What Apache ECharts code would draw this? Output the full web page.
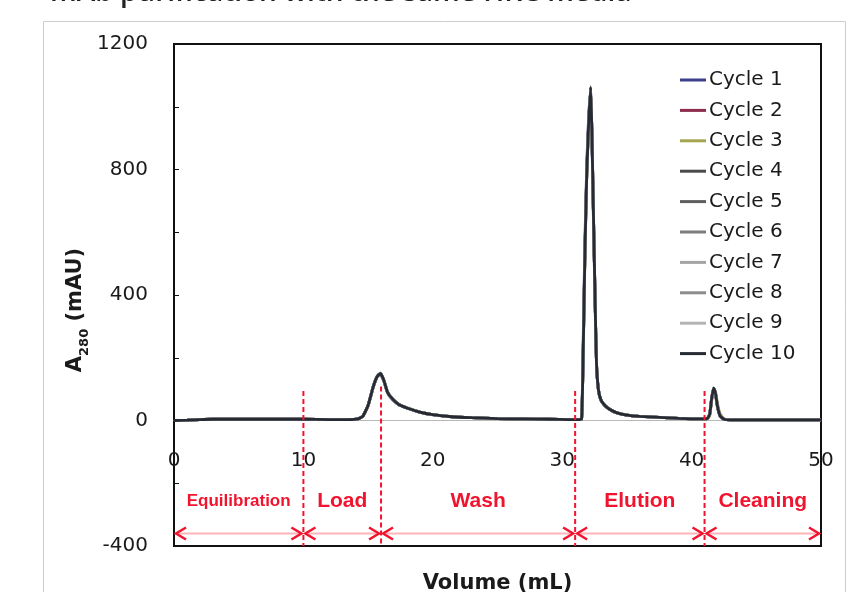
<!DOCTYPE html>
<html>
<head>
<meta charset="utf-8">
<script src="https://cdn.jsdelivr.net/npm/echarts@6/dist/echarts.min.js"></script>
<style>
  html, body { margin: 0; padding: 0; background: #fff; }
  #chart { width: 859px; height: 592px; }
</style>
</head>
<body>
<div id="chart"></div>
<script>
// volume (mL) sample points shared by every cycle
var volume = [0, 1, 2, 3, 5, 8, 10, 12, 13.5, 14.2, 14.6, 15.0, 15.4, 15.7, 15.95, 16.2, 16.5, 16.9, 17.4, 18, 19, 20, 21.5, 23, 25, 27, 29, 30.5, 31.3, 31.5, 31.6, 31.75, 31.9, 32.05, 32.2, 32.3, 32.4, 32.55, 32.65, 32.8, 33.0, 33.3, 33.7, 34.2, 35, 36, 37.5, 39, 40.5, 41.2, 41.4, 41.55, 41.7, 41.85, 42.0, 42.2, 42.5, 43, 45, 47.5, 50]

// A280 (mAU) for each cycle
var cycle1 = [0, 1, 3, 4, 4, 4, 4, 3, 3, 5, 15, 50, 110, 140, 146, 127, 88, 66, 49, 39, 26, 18, 12, 9, 6, 5, 4, 3, 3, 6, 200, 560, 820, 975, 1050, 890, 670, 355, 175, 95, 63, 47, 34, 24, 17, 13, 10, 7, 5, 6, 22, 72, 98, 80, 42, 14, 4, 2, 2, 2, 2]
var cycle2 = [0, 1, 3, 4, 4, 4, 4, 3, 3, 5, 14, 47, 106, 139, 149, 131, 91, 69, 51, 40, 27, 19, 12, 9, 6, 5, 4, 3, 3, 5, 170, 530, 800, 955, 1058, 905, 685, 365, 180, 97, 64, 48, 35, 25, 17, 13, 10, 7, 5, 6, 19, 68, 101, 86, 47, 16, 4, 2, 2, 2, 2]
var cycle3 = [0, 1, 3, 4, 4, 4, 4, 3, 3, 5, 13, 46, 105, 138, 148, 131, 92, 69, 51, 41, 27, 19, 12, 9, 6, 5, 4, 3, 3, 5, 150, 505, 780, 945, 1055, 915, 700, 378, 188, 100, 66, 49, 36, 25, 18, 13, 10, 7, 5, 5, 15, 60, 100, 92, 55, 22, 6, 2, 2, 2, 2]
var cycle4 = [0, 1, 3, 4, 4, 4, 4, 3, 3, 5, 14, 48, 107, 140, 151, 131, 90, 68, 50, 40, 27, 19, 12, 9, 6, 5, 4, 3, 3, 5, 158, 515, 785, 948, 1060, 912, 692, 372, 184, 98, 65, 48, 35, 25, 17, 13, 10, 7, 5, 6, 20, 69, 104, 86, 46, 15, 4, 2, 2, 2, 2]
var cycle5 = [0, 1, 3, 4, 4, 4, 4, 3, 3, 5, 14, 49, 109, 141, 150, 129, 89, 67, 50, 40, 27, 19, 12, 9, 6, 5, 4, 3, 3, 5, 162, 522, 792, 952, 1064, 908, 688, 368, 182, 98, 65, 48, 35, 25, 17, 13, 10, 7, 5, 6, 21, 71, 102, 84, 44, 15, 4, 2, 2, 2, 2]
var cycle6 = [0, 1, 3, 4, 4, 4, 4, 3, 3, 5, 14, 48, 108, 139, 149, 130, 90, 68, 50, 40, 27, 19, 12, 9, 6, 5, 4, 3, 3, 5, 165, 525, 795, 955, 1060, 906, 686, 366, 181, 97, 64, 48, 35, 25, 17, 13, 10, 7, 5, 6, 20, 70, 103, 85, 45, 15, 4, 2, 2, 2, 2]
var cycle7 = [0, 1, 3, 4, 4, 4, 4, 3, 3, 5, 14, 47, 107, 140, 150, 130, 90, 68, 50, 40, 27, 19, 12, 9, 6, 5, 4, 3, 3, 5, 160, 518, 788, 950, 1061, 911, 691, 371, 183, 98, 65, 48, 35, 25, 17, 13, 10, 7, 5, 6, 20, 70, 102, 85, 45, 15, 4, 2, 2, 2, 2]
var cycle8 = [0, 1, 3, 4, 4, 4, 4, 3, 3, 5, 14, 48, 108, 141, 151, 130, 90, 68, 50, 40, 27, 19, 12, 9, 6, 5, 4, 3, 3, 5, 163, 523, 793, 953, 1063, 909, 689, 369, 182, 98, 65, 48, 35, 25, 17, 13, 10, 7, 5, 6, 20, 71, 103, 84, 45, 15, 4, 2, 2, 2, 2]
var cycle9 = [0, 1, 3, 4, 4, 4, 4, 3, 3, 5, 14, 47, 107, 139, 150, 131, 91, 68, 50, 40, 27, 19, 12, 9, 6, 5, 4, 3, 3, 5, 158, 518, 788, 948, 1061, 911, 691, 371, 184, 98, 65, 48, 35, 25, 17, 13, 10, 7, 5, 6, 20, 70, 102, 85, 46, 15, 4, 2, 2, 2, 2]
var cycle10 = [0, 1, 3, 4, 4, 4, 4, 3, 3, 5, 14, 48, 108, 140, 150, 130, 90, 68, 50, 40, 27, 19, 12, 9, 6, 5, 4, 3, 3, 5, 160, 520, 790, 950, 1062, 910, 690, 370, 183, 98, 65, 48, 35, 25, 17, 13, 10, 7, 5, 6, 20, 70, 103, 85, 45, 15, 4, 2, 2, 2, 2]

var cycleNames = ['Cycle 1', 'Cycle 2', 'Cycle 3', 'Cycle 4', 'Cycle 5', 'Cycle 6', 'Cycle 7', 'Cycle 8', 'Cycle 9', 'Cycle 10']

// phases of the run, boundaries in mL
var phaseNames = ['Equilibration', 'Load', 'Wash', 'Elution', 'Cleaning']
var phaseBounds = [0, 10, 16, 31, 41, 50]
var dividerVolumes = [10, 16, 31, 41]
var dividerTops = [94, 108, 94, 94]

var cycleColors = ['#3d3f8e', '#8e2c4c', '#a3a64e', '#4a4a4a', '#5e5e5e', '#7c7c7c', '#a4a4a4', '#8c8c8c', '#b4b4b4', '#262a33']
var red = '#f0142e'
var labelY = -256
var arrowY = -360

var chart = echarts.init(document.getElementById('chart'))

var series = []
var allCycles = [cycle1, cycle2, cycle3, cycle4, cycle5, cycle6, cycle7, cycle8, cycle9, cycle10]
allCycles.forEach(function (vals, i) {
  series.push({
    name: cycleNames[i],
    type: 'line',
    data: volume.map(function (v, j) { return [v, vals[j]] }),
    symbol: 'none',
    smooth: 0.15,
    lineStyle: { width: 2.8, color: cycleColors[i] },
    itemStyle: { color: cycleColors[i] },
    z: 2
  })
})

// dashed red separators
series.push({
  type: 'custom',
  silent: true,
  z: 5,
  data: dividerVolumes.map(function (v, i) { return [v, dividerTops[i]] }),
  renderItem: function (params, api) {
    var top = api.coord([api.value(0), api.value(1)])
    var bot = api.coord([api.value(0), -400])
    return {
      type: 'line',
      shape: { x1: top[0], y1: top[1], x2: bot[0], y2: bot[1] },
      style: { stroke: red, lineWidth: 2, lineDash: [5, 3] }
    }
  }
})

// phase labels and double arrows
series.push({
  type: 'custom',
  silent: true,
  z: 6,
  data: phaseNames.map(function (n, i) { return [phaseBounds[i], phaseBounds[i + 1]] }),
  renderItem: function (params, api) {
    var i = params.dataIndex
    var s = api.value(0), e = api.value(1)
    var p0 = api.coord([s, arrowY])
    var p1 = api.coord([e, arrowY])
    var c = api.coord([(s + e) / 2, labelY])
    var x0 = p0[0] + 2, x1 = p1[0] - 2, y = p0[1]
    return {
      type: 'group',
      children: [
        { type: 'line', shape: { x1: x0, y1: y, x2: x1, y2: y }, style: { stroke: '#ffb4ba', lineWidth: 2 } },
        { type: 'polyline', shape: { points: [[x0 + 10, y - 6], [x0, y], [x0 + 10, y + 6]] }, style: { stroke: red, lineWidth: 2.5, fill: null } },
        { type: 'polyline', shape: { points: [[x1 - 10, y - 6], [x1, y], [x1 - 10, y + 6]] }, style: { stroke: red, lineWidth: 2.5, fill: null } },
        {
          type: 'text',
          x: c[0], y: c[1],
          style: {
            text: phaseNames[i],
            fill: red,
            font: 'bold ' + (i === 0 ? 17 : 21) + 'px "Liberation Sans", Arial, sans-serif',
            align: 'center',
            verticalAlign: 'middle'
          }
        }
      ]
    }
  }
})

var option = {
  animation: false,
  backgroundColor: '#fff',
  textStyle: { fontFamily: '"DejaVu Sans", Verdana, sans-serif' },
  grid: {
    left: 174, right: 38, top: 44, bottom: 46,
    outerBoundsMode: 'none',
    containLabel: false,
    show: true, borderColor: '#111', borderWidth: 2
  },
  legend: {
    data: cycleNames,
    orient: 'vertical',
    left: 675, top: 65,
    itemWidth: 26, itemHeight: 3, itemGap: 10.4,
    icon: 'rect',
    textStyle: { fontSize: 20, lineHeight: 20, color: '#1a1a1a', padding: [0, 0, 0, -2] }
  },
  xAxis: {
    type: 'value',
    position: 'bottom',
    // sit the axis on y = 0 (grid bottom is y = -400, 0 is 125.5px above)
    offset: -125.5,
    min: 0, max: 50, interval: 10,
    axisLine: { onZero: false, lineStyle: { color: '#b8b8b8', width: 1 } },
    axisTick: { show: false },
    splitLine: { show: false },
    axisLabel: { fontSize: 20, color: '#1a1a1a', margin: 30, showMinLabel: true, showMaxLabel: true },
    name: 'Volume (mL)',
    nameLocation: 'middle',
    nameGap: 153,
    nameTextStyle: { fontSize: 21, fontWeight: 'bold', color: '#1a1a1a' }
  },
  yAxis: {
    type: 'value',
    min: -400, max: 1200, interval: 400,
    axisLine: { onZero: false, lineStyle: { color: '#111', width: 2 } },
    axisTick: { inside: true, length: 5, lineStyle: { color: '#111' } },
    minorTick: { show: true, splitNumber: 2, length: 5, lineStyle: { color: '#111' } },
    splitLine: { show: false },
    axisLabel: { fontSize: 20, color: '#1a1a1a', margin: 26, formatter: function (v) { return String(v) } }
  },
  graphic: [
    {
      type: 'rect',
      shape: { x: 43.5, y: 21.5, width: 802, height: 620 },
      style: { fill: null, stroke: '#cdcdcd', lineWidth: 1 },
      z: -10
    },
    {
      type: 'text',
      x: 50, y: -7,
      style: {
        text: 'mAb purification with the same HRC media',
        font: '600 28px "Open Sans", sans-serif',
        fill: '#222',
        verticalAlign: 'middle'
      }
    },
    {
      type: 'text',
      x: 78, y: 310,
      rotation: Math.PI / 2,
      style: {
        text: '{b|A}{s|280}{b| (mAU)}',
        align: 'center',
        verticalAlign: 'middle',
        fill: '#1a1a1a',
        rich: {
          b: { fontSize: 21, fontWeight: 'bold', fontFamily: '"DejaVu Sans", sans-serif', lineHeight: 26, verticalAlign: 'top' },
          s: { fontSize: 13, fontWeight: 'bold', fontFamily: '"DejaVu Sans", sans-serif', lineHeight: 14, verticalAlign: 'bottom' }
        }
      }
    }
  ],
  series: series
}

chart.setOption(option)
</script>
</body>
</html>
